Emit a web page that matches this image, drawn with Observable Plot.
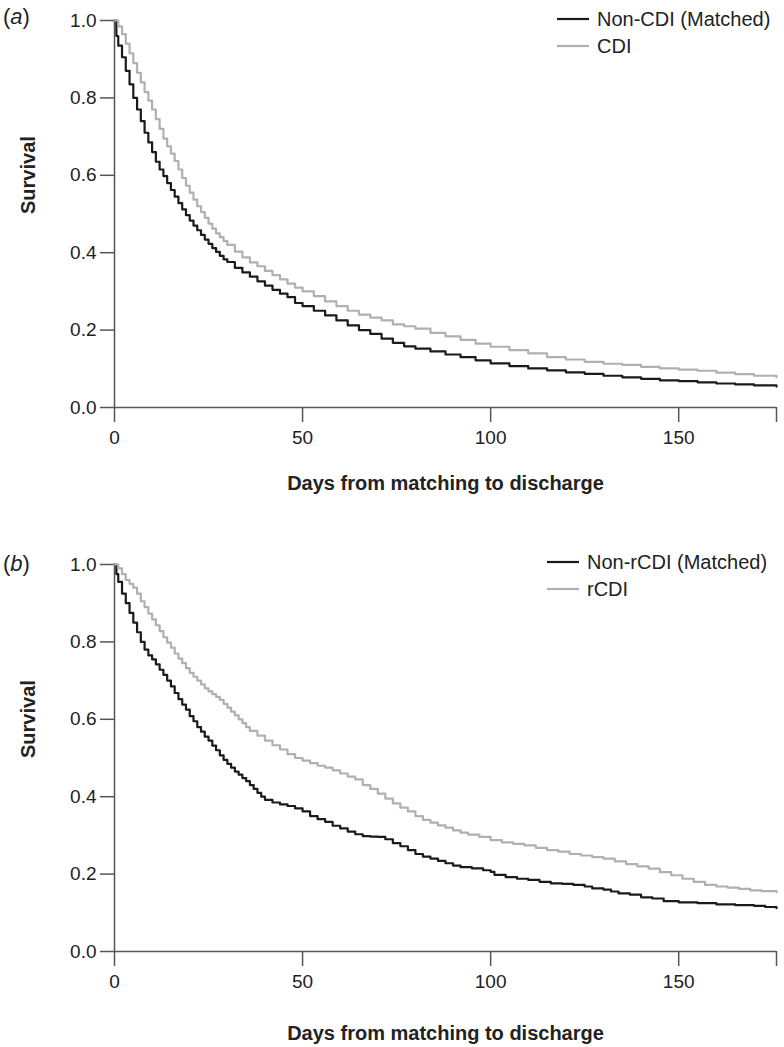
<!DOCTYPE html>
<html><head><meta charset="utf-8">
<script src="https://cdn.jsdelivr.net/npm/d3@7"></script>
<script src="https://cdn.jsdelivr.net/npm/@observablehq/plot@0.6"></script>
<style>
body{margin:0;background:#fff;font-family:"Liberation Sans",Arial,sans-serif;}
#wrap{position:relative;width:784px;height:1047px;overflow:hidden;}
.panel{position:absolute;left:0;}
.plabel{position:absolute;font-size:22px;color:#222;line-height:24px;}
.legrow{position:absolute;white-space:nowrap;display:flex;align-items:center;height:24px;font-size:20px;color:#222;}
.legrow svg{margin-right:8px;}
</style></head><body><div id="wrap"></div>
<script>
// ---------- Data ----------
const xTicks = [0, 50, 100, 150, 176];
const yTicks = [0, 0.2, 0.4, 0.6, 0.8, 1.0];
const xLabel = "Days from matching to discharge";
const yLabel = "Survival";

// Panel (a)
const seriesA = ["Non-CDI (Matched)", "CDI"];
const daysA_non = [0,0.5,1,2,3,4,5,6,7,8,9,10,11,12,13,14,15,16,17,18,19,20,21,22,23,24,25,26,27,28,29,30,32,34,36,38,40,42,44,46,48,50,53,56,59,62,65,68,71,74,77,80,84,88,92,96,100,105,110,115,120,125,130,135,140,145,150,155,160,165,170,176];
const survA_non = [1.0,0.96,0.935,0.905,0.87,0.835,0.80,0.77,0.74,0.71,0.685,0.66,0.635,0.615,0.598,0.58,0.562,0.545,0.528,0.512,0.497,0.483,0.47,0.458,0.446,0.434,0.423,0.412,0.402,0.392,0.383,0.376,0.361,0.349,0.338,0.326,0.315,0.304,0.294,0.285,0.27,0.262,0.25,0.238,0.225,0.212,0.2,0.19,0.178,0.167,0.158,0.152,0.145,0.137,0.13,0.122,0.114,0.107,0.101,0.096,0.091,0.087,0.082,0.078,0.074,0.07,0.068,0.065,0.062,0.06,0.057,0.054];
const daysA_cdi = [0,1,2,3,4,5,6,7,8,9,10,11,12,13,14,15,16,17,18,19,20,21,22,23,24,25,26,27,28,29,30,32,34,36,38,40,42,44,46,48,50,53,56,59,62,65,68,71,74,77,80,84,88,92,96,100,105,110,115,120,125,130,135,140,145,150,155,160,165,170,176];
const survA_cdi = [1.0,0.985,0.965,0.94,0.915,0.89,0.865,0.84,0.815,0.793,0.77,0.745,0.72,0.695,0.675,0.656,0.637,0.615,0.593,0.573,0.555,0.537,0.52,0.505,0.49,0.475,0.462,0.45,0.44,0.43,0.42,0.403,0.388,0.375,0.365,0.353,0.342,0.331,0.32,0.31,0.3,0.288,0.274,0.262,0.25,0.24,0.232,0.225,0.215,0.21,0.204,0.193,0.184,0.175,0.165,0.157,0.148,0.14,0.13,0.124,0.118,0.113,0.11,0.105,0.101,0.098,0.095,0.09,0.086,0.082,0.078];

// Panel (b)
const seriesB = ["Non-rCDI (Matched)", "rCDI"];
const daysB_non = [0,0.5,1,2,3,4,5,6,7,8,9,10,11,12,13,14,15,16,17,18,19,20,21,22,23,24,25,26,27,28,29,30,31,32,33,34,35,36,37,38,39,40,42,44,46,48,50,52,54,56,58,60,62,64,66,68,70,72,74,76,78,80,82,84,86,88,90,92,95,98,100,101,104,107,110,113,116,119,122,125,127,130,132,134,137,140,143,146,150,155,160,165,170,173,176];
const survB_non = [1.0,0.975,0.955,0.925,0.9,0.875,0.85,0.825,0.80,0.78,0.765,0.755,0.742,0.728,0.715,0.70,0.685,0.668,0.652,0.638,0.625,0.608,0.595,0.58,0.568,0.555,0.545,0.532,0.52,0.507,0.495,0.485,0.475,0.465,0.457,0.448,0.44,0.43,0.42,0.41,0.40,0.392,0.385,0.38,0.376,0.37,0.362,0.35,0.342,0.335,0.325,0.318,0.31,0.303,0.298,0.297,0.296,0.29,0.28,0.272,0.262,0.252,0.245,0.24,0.234,0.228,0.222,0.218,0.215,0.21,0.206,0.198,0.192,0.188,0.185,0.18,0.176,0.175,0.172,0.168,0.163,0.16,0.155,0.15,0.147,0.14,0.137,0.13,0.127,0.125,0.122,0.12,0.118,0.115,0.112];
const daysB_r = [0,1,2,3,4,5,6,7,8,9,10,11,12,13,14,15,16,17,18,19,20,21,22,23,24,25,26,27,28,29,30,31,32,33,34,35,36,38,40,42,44,46,48,50,52,54,56,58,60,62,64,66,68,70,72,74,76,78,80,82,84,86,88,90,92,94,97,100,103,106,109,112,115,118,121,124,127,130,133,136,139,142,145,148,151,154,157,160,163,166,169,172,176];
const survB_r = [1.0,0.99,0.975,0.96,0.95,0.94,0.925,0.905,0.89,0.873,0.858,0.843,0.828,0.812,0.798,0.785,0.77,0.757,0.745,0.732,0.72,0.71,0.70,0.69,0.68,0.672,0.665,0.658,0.65,0.64,0.63,0.62,0.61,0.60,0.59,0.58,0.57,0.558,0.545,0.533,0.522,0.51,0.50,0.493,0.487,0.48,0.475,0.468,0.46,0.452,0.445,0.43,0.42,0.408,0.395,0.383,0.372,0.362,0.35,0.34,0.333,0.326,0.32,0.313,0.307,0.302,0.296,0.288,0.282,0.278,0.274,0.268,0.262,0.258,0.252,0.248,0.244,0.24,0.233,0.226,0.22,0.214,0.205,0.197,0.188,0.18,0.172,0.168,0.165,0.162,0.158,0.156,0.153];

const colors = ["#1a1a1a", "#b0b0b0"];
const font = "'Liberation Sans', Arial, Helvetica, sans-serif";

function toRows(days, surv, series) { return days.map((d, i) => ({day: d, surv: surv[i], series})); }

function makePanel(rows, names, height, marginBottom, xLabelDy) {
  return Plot.plot({
    width: 784, height,
    marginLeft: 114, marginRight: 8, marginTop: 20, marginBottom,
    style: {fontFamily: font, fontSize: "19px", color: "#222", background: "#fff", overflow: "visible"},
    x: {domain: [0, 176]},
    y: {domain: [0, 1]},
    color: {domain: names, range: colors},
    marks: [
      Plot.ruleX([0], {y1: 0, y2: 1, stroke: "#555", strokeWidth: 1.5}),
      Plot.ruleY([0], {stroke: "#555", strokeWidth: 1.5}),
      Plot.axisY(yTicks, {tickSize: 14, tickPadding: 4, tickFormat: d3.format(".1f"), stroke: "#555", strokeWidth: 1.5, label: null, fontSize: 19}),
      Plot.axisX(xTicks, {tickSize: 15, tickPadding: 8, tickFormat: d => d === 176 ? "" : d, stroke: "#555", strokeWidth: 1.5, label: null, fontSize: 19}),
      Plot.line(rows, {x: "day", y: "surv", z: "series", stroke: "series", curve: "step-after", strokeWidth: 2.2}),
      Plot.text([yLabel], {frameAnchor: "left", dx: -86, rotate: -90, fontWeight: "bold", fontSize: 20, fill: "#222", lineAnchor: "middle"}),
      Plot.text([xLabel], {frameAnchor: "bottom", dy: xLabelDy, fontWeight: "bold", fontSize: 20, fill: "#222", lineAnchor: "middle"})
    ]
  });
}

const wrap = document.getElementById("wrap");

function addPanel(top, rows, names, height, mb, dy, labelLetter, labTop, legX, legY1, legY2) {
  const p = makePanel(rows, names, height, mb, dy);
  p.classList.add("panel");
  p.style.top = top + "px";
  wrap.appendChild(p);
  const lab = document.createElement("div");
  lab.className = "plabel";
  lab.style.left = "3px"; lab.style.top = labTop + "px";
  lab.innerHTML = "(<i>" + labelLetter + "</i>)";
  wrap.appendChild(lab);
  [legY1, legY2].forEach((ly, i) => {
    const row = document.createElement("div");
    row.className = "legrow";
    row.style.left = legX + "px"; row.style.top = (ly - 12) + "px";
    row.innerHTML = `<svg width="32" height="4"><line x1="0" x2="32" y1="2" y2="2" stroke="${colors[i]}" stroke-width="2.2"/></svg><span>${names[i]}</span>`;
    wrap.appendChild(row);
  });
}

const rowsA = [...toRows(daysA_non, survA_non, seriesA[0]), ...toRows(daysA_cdi, survA_cdi, seriesA[1])];
const rowsB = [...toRows(daysB_non, survB_non, seriesB[0]), ...toRows(daysB_r, survB_r, seriesB[1])];

addPanel(0, rowsA, seriesA, 520, 113, 76, "a", 5, 557, 19, 46);
addPanel(544, rowsB, seriesB, 503, 96, 82, "b", 552, 547, 562, 589);
</script></body></html>
